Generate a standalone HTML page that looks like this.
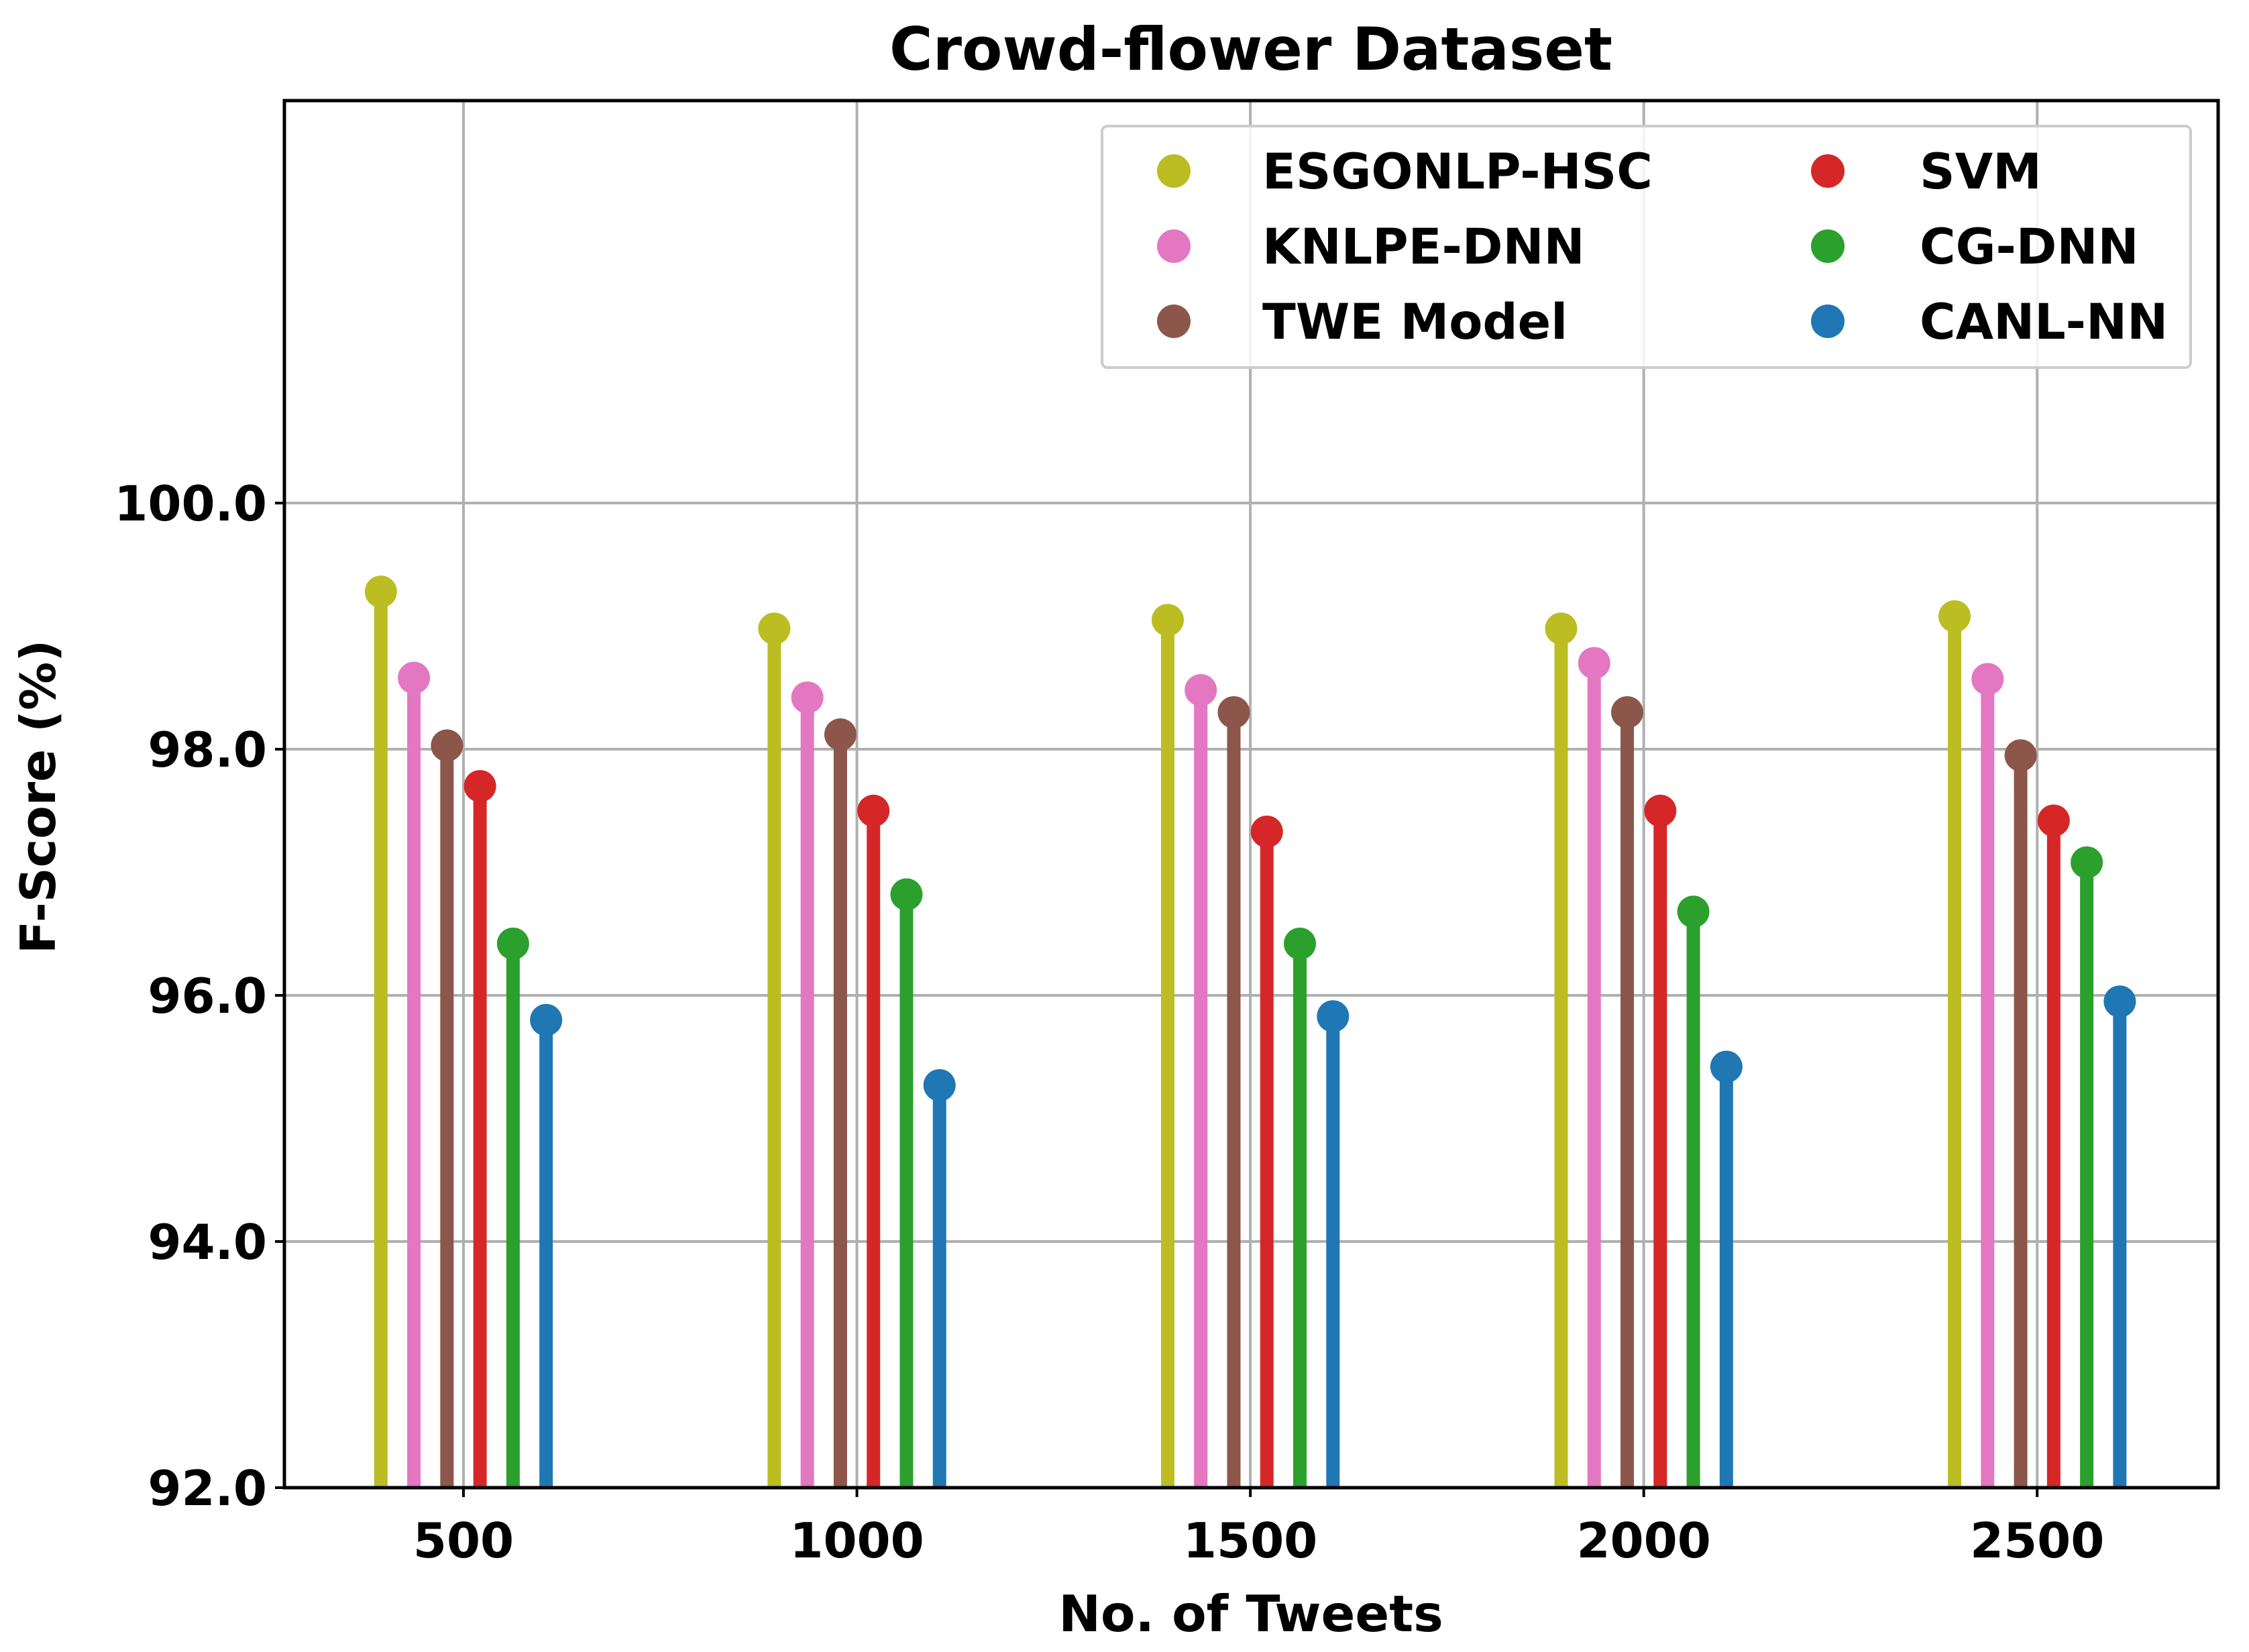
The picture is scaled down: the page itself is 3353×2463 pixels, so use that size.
<!DOCTYPE html>
<html><head><meta charset="utf-8"><style>
html,body{margin:0;padding:0;background:#fff}
svg{display:block}
text{font-family:"DejaVu Sans","Liberation Sans",sans-serif;font-weight:bold;fill:#000}
</style></head><body>
<svg id="chart" width="3353" height="2463" viewBox="0 0 3353 2463" xmlns="http://www.w3.org/2000/svg">
<text x="1865" y="104" font-size="88" text-anchor="middle">Crowd-flower Dataset</text>
<g id="grid"></g>
<g id="marks"></g>
<rect x="424" y="150" width="2883" height="2068" fill="none" stroke="#000" stroke-width="5"/>
<g id="ticks"></g>
<text x="1865" y="2432" font-size="75" text-anchor="middle">No. of Tweets</text>
<text transform="translate(82,1188) rotate(-90)" font-size="72" text-anchor="middle">F-Score (%)</text>
<g id="legend"></g>
</svg>
<script>
const categories = [500, 1000, 1500, 2000, 2500];
const seriesNames = ["ESGONLP-HSC", "KNLPE-DNN", "TWE Model", "SVM", "CG-DNN", "CANL-NN"];
const esgonlp = [99.28, 98.98, 99.05, 98.98, 99.08];
const knlpe = [98.58, 98.42, 98.48, 98.70, 98.57];
const twe = [98.03, 98.12, 98.30, 98.30, 97.95];
const svm = [97.70, 97.50, 97.33, 97.50, 97.42];
const cgdnn = [96.42, 96.82, 96.42, 96.68, 97.08];
const canl = [95.80, 95.27, 95.83, 95.42, 95.95];
const yTicks = [92, 94, 96, 98, 100];
const yTickLabels = ["92.0", "94.0", "96.0", "98.0", "100.0"];
const xTickLabels = ["500", "1000", "1500", "2000", "2500"];

const series = [esgonlp, knlpe, twe, svm, cgdnn, canl];
const colors = ["#bcbd22", "#e377c2", "#8c564b", "#d62728", "#2ca02c", "#1f77b4"];
const NS = "http://www.w3.org/2000/svg";
const L = 424, R = 3307, T = 150, B = 2218;
const xMin = 272.4, xMax = 2730, yMin = 92, yMax = 103.27;
const xs = v => L + (v - xMin) / (xMax - xMin) * (R - L);
const ys = v => B - (v - yMin) / (yMax - yMin) * (B - T);
function mk(tag, attrs, parent) {
  const e = document.createElementNS(NS, tag);
  for (const k in attrs) e.setAttribute(k, attrs[k]);
  parent.appendChild(e);
  return e;
}
const grid = document.getElementById("grid");
const marks = document.getElementById("marks");
const ticks = document.getElementById("ticks");
const legend = document.getElementById("legend");

categories.forEach((c, i) => {
  const g = mk("line", {x1: xs(c), x2: xs(c), y1: T, y2: B, stroke: "#b0b0b0", "stroke-width": 4}, grid);
  
  
  const tk = mk("line", {x1: xs(c), x2: xs(c), y1: B, y2: B + 14, stroke: "#000", "stroke-width": 4}, ticks);
  
  
  const t = mk("text", {x: xs(c), y: B + 104, "font-size": 72, "text-anchor": "middle"}, ticks);
  t.textContent = xTickLabels[i];
  
  
});
yTicks.forEach((v, i) => {
  const g = mk("line", {x1: L, x2: R, y1: ys(v), y2: ys(v), stroke: "#b0b0b0", "stroke-width": 4}, grid);
  
  
  const tk = mk("line", {x1: L - 14, x2: L, y1: ys(v), y2: ys(v), stroke: "#000", "stroke-width": 4}, ticks);
  
  
  const t = mk("text", {x: L - 26, y: ys(v) + 26, "font-size": 72, "text-anchor": "end"}, ticks);
  t.textContent = yTickLabels[i];
  
  
});
series.forEach((vals, s) => {
  vals.forEach((v, i) => {
    const x = xs(categories[i] + (s - 2.5) * 42);
    const st = mk("line", {x1: x, x2: x, y1: B, y2: ys(v), stroke: colors[s], "stroke-width": 20}, marks);
    
    
    const m = mk("circle", {cx: x, cy: ys(v), r: 24, fill: colors[s]}, marks);
    
    
  });
});
const box = mk("rect", {x: 1643, y: 188, width: 1623, height: 360, rx: 8, fill: "#fff", "fill-opacity": 0.85, stroke: "#cccccc", "stroke-width": 4}, legend);


seriesNames.forEach((n, s) => {
  const col = Math.floor(s / 3), row = s % 3;
  const cy = 255 + row * 112;
  const mx = col ? 2725 : 1750, tx = col ? 2862 : 1882;
  const m = mk("circle", {cx: mx, cy: cy, r: 25, fill: colors[s]}, legend);
  
  
  const t = mk("text", {x: tx, y: cy + 26, "font-size": 73}, legend);
  t.textContent = n;
  
  
});
</script>
</body></html>
